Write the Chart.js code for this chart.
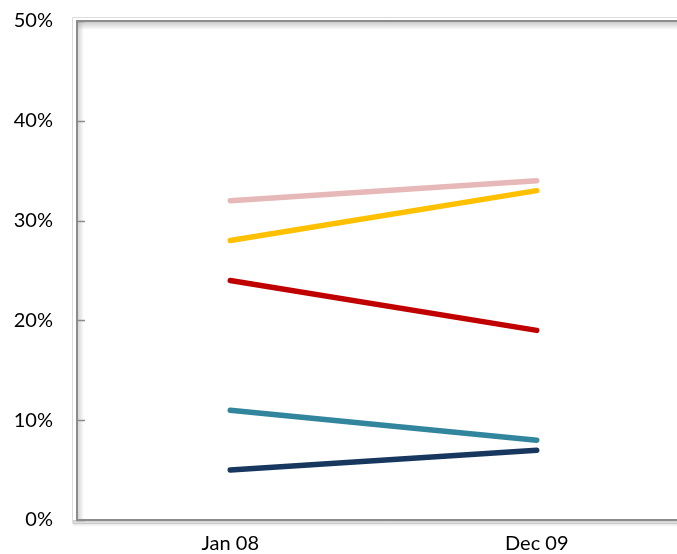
<!DOCTYPE html>
<html>
<head>
<meta charset="utf-8">
<script src="https://cdn.jsdelivr.net/npm/chart.js@4/dist/chart.umd.min.js"></script>
<style>
html,body{margin:0;padding:0;background:#fff;overflow:hidden;width:677px;height:554px;}
#wrap{width:700px;height:554px;position:relative;}
</style>
</head>
<body>
<div id="wrap"><canvas id="c" width="700" height="554"></canvas></div>
<script>
const categories = ["Jan 08", "Dec 09"];
const seriesPink   = [32, 34];
const seriesYellow = [28, 33];
const seriesRed    = [24, 19];
const seriesTeal   = [11, 8];
const seriesNavy   = [5, 7];
const yTicks = [0, 10, 20, 30, 40, 50];

const framePlugin = {
  id: 'frame',
  beforeDatasetsDraw(chart) {
    const ctx = chart.ctx, a = chart.chartArea;
    ctx.save();
    ctx.strokeStyle = '#dcdcdc';
    ctx.lineWidth = 1;
    ctx.beginPath();
    ctx.moveTo(a.right + 20, a.top - 3.5);
    ctx.lineTo(a.left - 4.5, a.top - 3.5);
    ctx.lineTo(a.left - 4.5, a.bottom + 3.5);
    ctx.lineTo(a.right + 20, a.bottom + 3.5);
    ctx.stroke();
    const gTop = ctx.createLinearGradient(0, a.top, 0, a.top + 9);
    gTop.addColorStop(0, 'rgba(150,150,150,0.55)');
    gTop.addColorStop(1, 'rgba(150,150,150,0)');
    ctx.fillStyle = gTop;
    ctx.fillRect(a.left, a.top, a.right - a.left + 20, 9);
    const gLeft = ctx.createLinearGradient(a.left, 0, a.left + 7, 0);
    gLeft.addColorStop(0, 'rgba(150,150,150,0.45)');
    gLeft.addColorStop(1, 'rgba(150,150,150,0)');
    ctx.fillStyle = gLeft;
    ctx.fillRect(a.left, a.top, 7, a.bottom - a.top);
    const gBot = ctx.createLinearGradient(0, a.bottom, 0, a.bottom + 7);
    gBot.addColorStop(0, 'rgba(150,150,150,0.5)');
    gBot.addColorStop(1, 'rgba(150,150,150,0)');
    ctx.fillStyle = gBot;
    ctx.fillRect(a.left - 4, a.bottom, a.right - a.left + 30, 7);
    ctx.strokeStyle = '#8c8c8c';
    ctx.lineWidth = 2;
    ctx.beginPath();
    ctx.moveTo(a.right + 20, a.top);
    ctx.lineTo(a.left, a.top);
    ctx.lineTo(a.left, a.bottom);
    ctx.lineTo(a.right + 20, a.bottom);
    ctx.stroke();
    const ys = chart.scales.y;
    ctx.lineWidth = 1.5;
    ctx.strokeStyle = '#8c8c8c';
    yTicks.forEach(v => {
      const py = Math.round(ys.getPixelForValue(v)) + 0.5;
      ctx.beginPath();
      ctx.moveTo(a.left, py);
      ctx.lineTo(a.left + 8, py);
      ctx.stroke();
    });
    ctx.restore();
  }
};

function ds(data, color) {
  return {data, borderColor: color, backgroundColor: color, borderWidth: 5.5,
    pointRadius: 0, borderCapStyle: 'round', tension: 0, fill: false};
}

new Chart(document.getElementById('c'), {
  type: 'line',
  data: {
    labels: categories,
    datasets: [
      ds(seriesNavy, '#17375E'),
      ds(seriesTeal, '#31859C'),
      ds(seriesRed, '#C00000'),
      ds(seriesYellow, '#FFC000'),
      ds(seriesPink, '#E6B9B8')
    ]
  },
  options: {
    responsive: false,
    animation: false,
    layout: {padding: {left: 0, top: 21, right: 10, bottom: 0}},
    plugins: {legend: {display: false}, tooltip: {enabled: false}},
    scales: {
      x: {
        offset: true,
        grid: {display: false, drawTicks: false},
        border: {display: false},
        ticks: {color: '#000', padding: 12, font: {family: 'Lato', size: 20}},
        afterFit: s => { s.height = 34; }
      },
      y: {
        min: 0, max: 50,
        afterBuildTicks: s => { s.ticks = yTicks.map(v => ({value: v})); },
        grid: {display: false, drawTicks: false},
        border: {display: false},
        ticks: {color: '#000', padding: 24, font: {family: 'Lato', size: 20},
          callback: v => v + '%'},
        afterFit: s => { s.width = 77; s.paddingTop = 0; s.paddingBottom = 0; }
      }
    }
  },
  plugins: [framePlugin]
});
</script>
</body>
</html>
